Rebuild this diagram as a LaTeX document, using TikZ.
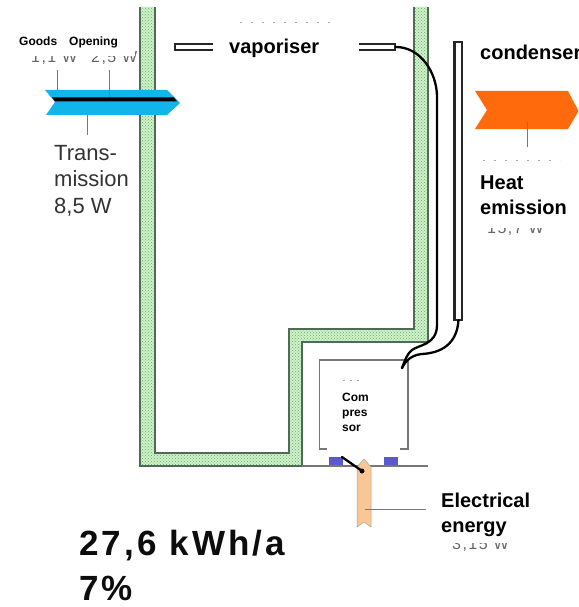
\documentclass[tikz,border=0pt]{standalone}
\usepackage{fontspec}
\setmainfont{Liberation Sans}
\usetikzlibrary{patterns}
\definecolor{wallgreen}{HTML}{CDF2C8}
\definecolor{wallline}{HTML}{4F6A55}
\definecolor{speck}{HTML}{6FA877}
\definecolor{flowblue}{HTML}{12B5EA}
\definecolor{floworange}{HTML}{FF6A0D}
\definecolor{flowtan}{HTML}{F8C795}
\definecolor{blockblue}{HTML}{5A5AC8}
\definecolor{leader}{HTML}{777777}
\newfontfamily\spacedfont[LetterSpace=9]{Liberation Sans}
\tikzset{
  lbl/.style={inner sep=0pt,anchor=base west,align=left,font=\bfseries\fontsize{20}{25}\selectfont,text=black},
  smalllbl/.style={inner sep=0pt,anchor=base west,align=left,font=\bfseries\fontsize{12}{15}\selectfont,text=black},
  reg/.style={inner sep=0pt,anchor=base west,align=left,font=\fontsize{22}{26.5}\selectfont,text=black!80},
  hidden/.style={inner sep=0pt,anchor=base west,font=\spacedfont\fontsize{16}{18}\selectfont,text=black!60},
  big/.style={inner sep=0pt,anchor=base west,font=\spacedfont\bfseries\fontsize{35}{40}\selectfont,text=black!95},
  mask/.style={fill=white,draw=none},
  tube/.style={draw=black!85,line width=2.6pt,fill=white},
  pipe/.style={draw=black,line width=2.3pt,line cap=round},
  leadline/.style={draw=leader,line width=0.8pt},
  wall/.style={draw=wallline,line width=1.1pt},
  scrap/.style={draw=black!35,line width=1pt,dash pattern=on 2pt off 9pt}
}
\begin{document}
\begin{tikzpicture}[x=1pt,y=-1pt]
\useasboundingbox[fill=white] (0,0) rectangle (578,607);
% insulated wall
\path[fill=wallgreen] (140,7)--(140,466)--(302,466)--(302,342)--(428,342)--(428,7)--(414,7)--(414,329)--(289,329)--(289,453)--(155,453)--(155,7)--cycle;
\path[pattern=crosshatch dots,pattern color=speck] (140,7)--(140,466)--(302,466)--(302,342)--(428,342)--(428,7)--(414,7)--(414,329)--(289,329)--(289,453)--(155,453)--(155,7)--cycle;
\draw[wall] (140,7)--(140,466)--(302,466)--(302,342)--(428,342)--(428,7);
\draw[wall] (155,7)--(155,453)--(289,453)--(289,329)--(414,329)--(414,7);
% transmission arrow
\path[fill=flowblue] (45,90)--(167,90)--(180,103)--(167,115)--(46,115)--(55,102)--cycle;
\fill[black] (52,97.5)--(174,97.5)--(177,101.5)--(55,101.5)--cycle;
\coordinate (t1a) at (57,70); \coordinate (t1b) at (57,90);
\coordinate (t2a) at (109,70); \coordinate (t2b) at (109,97);
\coordinate (t3a) at (87,115); \coordinate (t3b) at (87,135);
\draw[leadline] (t1a)--(t1b);
\draw[leadline] (t2a)--(t2b);
\draw[leadline] (t3a)--(t3b);
\node[hidden] (hgoods) at (31,63) {1,1 W};
\node[hidden] (hopen) at (91,63) {2,5 W};
\fill[mask] (15,30) rectangle (135,56);
\node[smalllbl] (goods) at (19,46) {Goods};
\node[smalllbl] (opening) at (69,46) {Opening};
\node[reg] (trans) at (54,213) {Trans-\\mission\\8,5 W};
% vaporiser
\draw[tube] (213,44)--(175,44)--(175,50)--(213,50);
\draw[tube] (359,44)--(395,44)--(395,50)--(359,50);
\draw[scrap] (240,23)--(330,23);
\node[lbl] (vap) at (229,54) {vaporiser};
% condenser
\draw[tube] (454.5,42) rectangle (462,320);
\node[lbl] (cond) at (480,60) {condenser};
% orange arrow
\path[fill=floworange] (475,91)--(568,91)--(578,110)--(578,112)--(568,129)--(475,129)--(487,110)--cycle;
\coordinate (o1) at (527,122); \coordinate (o2) at (527,147);
\draw[leadline] (o1)--(o2);
\draw[scrap] (483,160)--(560,160);
\node[hidden] (hheat) at (487,233) {15,7 W};
\fill[mask] (470,165) rectangle (578,228);
\node[lbl] (heat) at (480,214) {Heat\\emission};
% compressor box
\draw[draw=leader,line width=1.2pt] (319.5,360) rectangle (408,449);
\fill[mask] (327,381) rectangle (400,457.5);
\draw[scrap,dash pattern=on 2pt off 5pt] (343,380)--(360,380);
\node[smalllbl] (comp) at (342,431) {Com\\pres\\sor};
% pipes
\draw[pipe] (396,47) .. controls (420,47) and (437,72) .. (437,97) -- (437,325) .. controls (437,345) and (418,345) .. (412,350) .. controls (407,354) and (405,360) .. (402,368);
\draw[pipe] (458.5,320) .. controls (457,345) and (440,353) .. (422,354) .. controls (412,355) and (406,360) .. (402,368);
% motor feet
\fill[blockblue] (329,457) rectangle (343,466);
\fill[blockblue] (384,457) rectangle (398,466);
\coordinate (baseL) at (302,466);
\coordinate (baseR) at (428,466);
\draw[draw=leader,line width=1.2pt] (baseL)--(baseR);
% electrical arrow
\path[fill=flowtan,draw=black!35,line width=0.5pt] (364,459)--(371,467)--(371,527)--(364,522)--(357,527)--(357,467)--cycle;
\draw[pipe] (342,457)--(362,471);
\fill[black] (362,471) circle (2.5);
\coordinate (e1) at (365,509); \coordinate (e2) at (426,509);
\draw[leadline] (e1)--(e2);
\node[hidden] (hel) at (452,549) {3,15 W};
\fill[mask] (436,486) rectangle (540,543);
\node[lbl] (elec) at (441,532) {Electrical\\energy};
% totals
\node[big] (kwh) at (79,555) {27,6 kWh/a};
\node[big] (pct) at (79,600) {7\%};
\end{tikzpicture}
\end{document}
